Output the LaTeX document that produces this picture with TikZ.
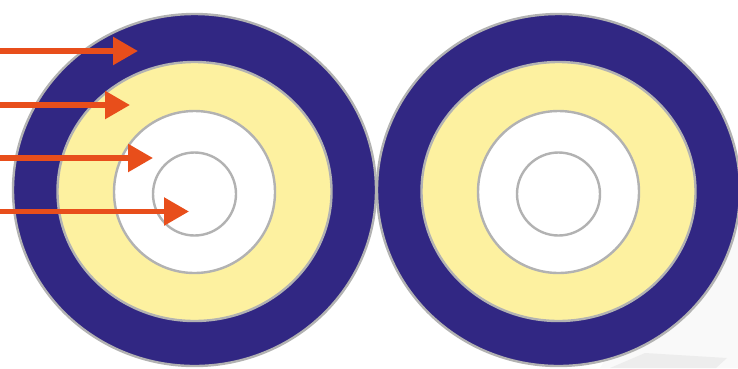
\documentclass[tikz,border=0pt]{standalone}
\usepackage{tikz}
\usetikzlibrary{arrows.meta,shapes.geometric}
\definecolor{ringnavy}{HTML}{312783}
\definecolor{ringyellow}{HTML}{FDF1A0}
\definecolor{ringgray}{HTML}{B2B2B2}
\definecolor{rayorange}{HTML}{E84E1B}

\begin{document}
\begin{tikzpicture}[
    x=1pt, y=-1pt,
    ring/.style={ellipse, draw=ringgray, line width=2.4pt, inner sep=0pt, outer sep=0pt},
    navyring/.style={ring, fill=ringnavy, minimum width=363pt, minimum height=352pt},
    yellowring/.style={ring, fill=ringyellow, minimum width=274pt, minimum height=259pt},
    whitering/.style={ring, fill=white, minimum width=161pt, minimum height=162pt},
    core/.style={ring, fill=white, minimum width=83pt, minimum height=83pt},
    ray/.style={-{Triangle[length=25pt,width=27pt]}, line width=5.5pt, rayorange}
]
\useasboundingbox (0,0) rectangle (738,368);
\clip (0,0) rectangle (738,368);

% faint shadow at the lower right
\fill[black!2.5] (600,368) -- (738,368) -- (738,200) -- (700,200) -- cycle;
\fill[black!7] (645,353) -- (727,358) -- (716,368) -- (610,368) -- cycle;

% left target
\node[navyring] (outerL) at (194.5,190) {};
\node[yellowring] (midL) at (194.5,191.5) {};
\node[whitering] (innerL) at (194.5,192) {};
\node[core] (coreL) at (194.5,194) {};

% right target
\node[navyring] (outerR) at (558.5,190) {};
\node[yellowring] (midR) at (558.5,191.5) {};
\node[whitering] (innerR) at (558.5,192) {};
\node[core] (coreR) at (558.5,194) {};

% incoming rays
\coordinate (r1s) at (0,51);
\coordinate (r1e) at (138,51);
\coordinate (r2s) at (0,105);
\coordinate (r2e) at (130,105);
\coordinate (r3s) at (0,158);
\coordinate (r3e) at (153,158);
\coordinate (r4s) at (0,211.5);
\coordinate (r4e) at (189,211.5);
\draw[ray] (r1s) -- (r1e);
\draw[ray] (r2s) -- (r2e);
\draw[ray] (r3s) -- (r3e);
\draw[ray] (r4s) -- (r4e);
\end{tikzpicture}
\end{document}
